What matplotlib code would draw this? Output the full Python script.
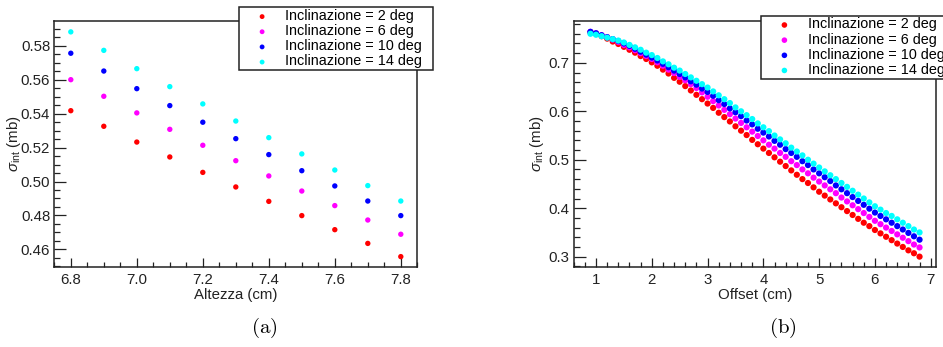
import matplotlib
matplotlib.use("Agg")
import matplotlib.pyplot as plt
from matplotlib.ticker import MultipleLocator, FormatStrFormatter

plt.rcParams['font.family'] = ['Liberation Sans', 'DejaVu Sans']
plt.rcParams['mathtext.fontset'] = 'custom'
plt.rcParams['mathtext.rm'] = 'Liberation Sans'
plt.rcParams['mathtext.it'] = 'Liberation Sans:italic'

# ---------------- data ----------------
labels = ["Inclinazione = 2 deg", "Inclinazione = 6 deg",
          "Inclinazione = 10 deg", "Inclinazione = 14 deg"]
colors = ["#ff0000", "#ff00ff", "#0000ff", "#00ffff"]

altezza = [6.8, 6.9, 7.0, 7.1, 7.2, 7.3, 7.4, 7.5, 7.6, 7.7, 7.8]
a_incl2 = [0.5418, 0.5326, 0.5233, 0.5145, 0.5054, 0.4968, 0.4883, 0.4799, 0.4716, 0.4635, 0.4557]
a_incl6 = [0.5601, 0.5503, 0.5405, 0.5308, 0.5214, 0.5123, 0.5033, 0.4944, 0.4858, 0.4773, 0.4689]
a_incl10 = [0.5757, 0.5652, 0.5548, 0.5448, 0.5350, 0.5253, 0.5159, 0.5064, 0.4974, 0.4885, 0.4799]
a_incl14 = [0.5883, 0.5774, 0.5666, 0.5560, 0.5458, 0.5357, 0.5259, 0.5163, 0.5068, 0.4976, 0.4885]

offset = [0.9, 1.0, 1.1, 1.2, 1.3, 1.4, 1.5, 1.6, 1.7, 1.8, 1.9, 2.0,
          2.1, 2.2, 2.3, 2.4, 2.5, 2.6, 2.7, 2.8, 2.9, 3.0,
          3.1, 3.2, 3.3, 3.4, 3.5, 3.6, 3.7, 3.8, 3.9, 4.0,
          4.1, 4.2, 4.3, 4.4, 4.5, 4.6, 4.7, 4.8, 4.9, 5.0,
          5.1, 5.2, 5.3, 5.4, 5.5, 5.6, 5.7, 5.8, 5.9, 6.0,
          6.1, 6.2, 6.3, 6.4, 6.5, 6.6, 6.7, 6.8]
b_incl2 = [0.763, 0.760, 0.755, 0.750, 0.744, 0.739, 0.733, 0.727, 0.721, 0.714, 0.708, 0.701,
           0.694, 0.686, 0.678, 0.669, 0.661, 0.652, 0.643, 0.634, 0.625, 0.616,
           0.607, 0.597, 0.588, 0.579, 0.569, 0.560, 0.551, 0.541, 0.532, 0.523,
           0.514, 0.505, 0.496, 0.487, 0.478, 0.469, 0.460, 0.452, 0.443, 0.434,
           0.426, 0.418, 0.410, 0.402, 0.394, 0.386, 0.378, 0.370, 0.363, 0.355,
           0.348, 0.341, 0.334, 0.327, 0.320, 0.313, 0.307, 0.300]
b_incl6 = [0.764, 0.761, 0.757, 0.753, 0.748, 0.743, 0.737, 0.732, 0.726, 0.720, 0.714, 0.708,
           0.701, 0.694, 0.686, 0.679, 0.671, 0.664, 0.656, 0.648, 0.639, 0.630,
           0.621, 0.612, 0.603, 0.594, 0.585, 0.576, 0.567, 0.558, 0.549, 0.540,
           0.531, 0.523, 0.514, 0.506, 0.497, 0.489, 0.480, 0.472, 0.463, 0.455,
           0.447, 0.439, 0.431, 0.422, 0.414, 0.406, 0.398, 0.390, 0.382, 0.374,
           0.367, 0.360, 0.353, 0.346, 0.339, 0.332, 0.325, 0.319]
b_incl10 = [0.764, 0.761, 0.757, 0.753, 0.749, 0.745, 0.740, 0.735, 0.729, 0.723, 0.717, 0.711,
            0.705, 0.698, 0.691, 0.684, 0.677, 0.670, 0.662, 0.655, 0.647, 0.640,
            0.632, 0.623, 0.615, 0.606, 0.598, 0.590, 0.581, 0.573, 0.564, 0.556,
            0.548, 0.539, 0.531, 0.522, 0.514, 0.506, 0.497, 0.489, 0.480, 0.472,
            0.464, 0.456, 0.447, 0.439, 0.431, 0.423, 0.415, 0.407, 0.399, 0.391,
            0.384, 0.377, 0.370, 0.363, 0.356, 0.349, 0.342, 0.335]
b_incl14 = [0.760, 0.758, 0.755, 0.752, 0.749, 0.746, 0.742, 0.737, 0.732, 0.727, 0.721, 0.716,
            0.710, 0.703, 0.697, 0.690, 0.684, 0.677, 0.670, 0.663, 0.656, 0.649,
            0.641, 0.633, 0.625, 0.617, 0.608, 0.600, 0.592, 0.584, 0.575, 0.567,
            0.559, 0.550, 0.542, 0.534, 0.525, 0.517, 0.509, 0.500, 0.492, 0.484,
            0.476, 0.468, 0.460, 0.452, 0.444, 0.436, 0.428, 0.420, 0.412, 0.404,
            0.397, 0.390, 0.384, 0.377, 0.370, 0.363, 0.356, 0.350]

# ---------------- figure ----------------
W, H = 943, 347
fig = plt.figure(figsize=(W / 100, H / 100), dpi=100)

def fx(px):
    return px / W

def fy(py):
    return 1 - py / H

ax_a = fig.add_axes([fx(54.3), fy(267.3), (417.3 - 54.3) / W, (267.3 - 20.7) / H])
ax_b = fig.add_axes([fx(573.7), fy(267.3), (936 - 573.7) / W, (267.3 - 20.7) / H])

FS = 10.8

def style(ax):
    for s in ax.spines.values():
        s.set_linewidth(1.1)
        s.set_color('#222222')
    ax.tick_params(axis='both', which='both', direction='in', top=False, right=False,
                   labelsize=FS, colors='#222222', width=0.9)
    ax.tick_params(axis='y', which='major', length=8.5, pad=3)
    ax.tick_params(axis='y', which='minor', length=4.5)
    ax.tick_params(axis='x', which='major', length=6.5, pad=4)
    ax.tick_params(axis='x', which='minor', length=3.5)

ms = 15
series_a = [a_incl2, a_incl6, a_incl10, a_incl14]
for ys, c, lab in zip(series_a, colors, labels):
    ax_a.scatter(altezza, ys, s=ms, color=c, edgecolors='none', label=lab, zorder=3)
ax_a.set_xlim(6.75, 7.85)
ax_a.set_ylim(0.4494, 0.5949)
ax_a.xaxis.set_major_locator(MultipleLocator(0.2))
ax_a.xaxis.set_minor_locator(MultipleLocator(0.05))
ax_a.yaxis.set_major_locator(MultipleLocator(0.02))
ax_a.yaxis.set_minor_locator(MultipleLocator(0.005))
ax_a.xaxis.set_major_formatter(FormatStrFormatter('%.1f'))
ax_a.yaxis.set_major_formatter(FormatStrFormatter('%.2f'))
style(ax_a)
ax_a.set_xlabel('Altezza (cm)', fontsize=FS, labelpad=1, color='#222222')
ax_a.set_ylabel(r'$\sigma_{\rm int}$ (mb)', fontsize=FS, color='#222222')
ax_a.yaxis.set_label_coords(-0.087, 0.5)

series_b = [b_incl2, b_incl6, b_incl10, b_incl14]
for ys, c, lab in zip(series_b, colors, labels):
    ax_b.scatter(offset, ys, s=ms + 5, color=c, edgecolors='none', label=lab, zorder=3)
ax_b.set_xlim(0.6, 7.095)
ax_b.set_ylim(0.278, 0.787)
ax_b.xaxis.set_major_locator(MultipleLocator(1))
ax_b.xaxis.set_minor_locator(MultipleLocator(0.2))
ax_b.yaxis.set_major_locator(MultipleLocator(0.1))
ax_b.yaxis.set_minor_locator(MultipleLocator(0.02))
ax_b.xaxis.set_major_formatter(FormatStrFormatter('%d'))
ax_b.yaxis.set_major_formatter(FormatStrFormatter('%.1f'))
style(ax_b)
ax_b.set_xlabel('Offset (cm)', fontsize=FS, labelpad=1, color='#222222')
ax_b.set_ylabel(r'$\sigma_{\rm int}$ (mb)', fontsize=FS, color='#222222')
ax_b.yaxis.set_label_coords(-0.076, 0.5)

def legend(ax, x0, y0, x1, y1):
    leg = ax.legend(loc='upper left', bbox_to_anchor=(fx(x0), fy(y1), (x1 - x0) / W, (y1 - y0) / H),
                    bbox_transform=fig.transFigure, mode='expand', fontsize=10.4,
                    frameon=True, fancybox=False, shadow=False, borderaxespad=0,
                    handletextpad=0.1, labelspacing=0.08, borderpad=0.12,
                    markerscale=0.9, handlelength=3.0, handleheight=0.6)
    fr = leg.get_frame()
    fr.set_edgecolor('#222222')
    fr.set_linewidth(1.1)
    fr.set_alpha(1)
    leg.set_zorder(10)
    return leg

legend(ax_a, 238.7, 7.3, 433.3, 70)
legend(ax_b, 761, 15.7, 963, 77.7)

fig.text(fx(264), fy(328), r'$\mathrm{(a)}$', math_fontfamily='cm', fontsize=15, ha='center', va='center')
fig.text(fx(783), fy(328), r'$\mathrm{(b)}$', math_fontfamily='cm', fontsize=15, ha='center', va='center')

fig.savefig('out.png', dpi=100)
